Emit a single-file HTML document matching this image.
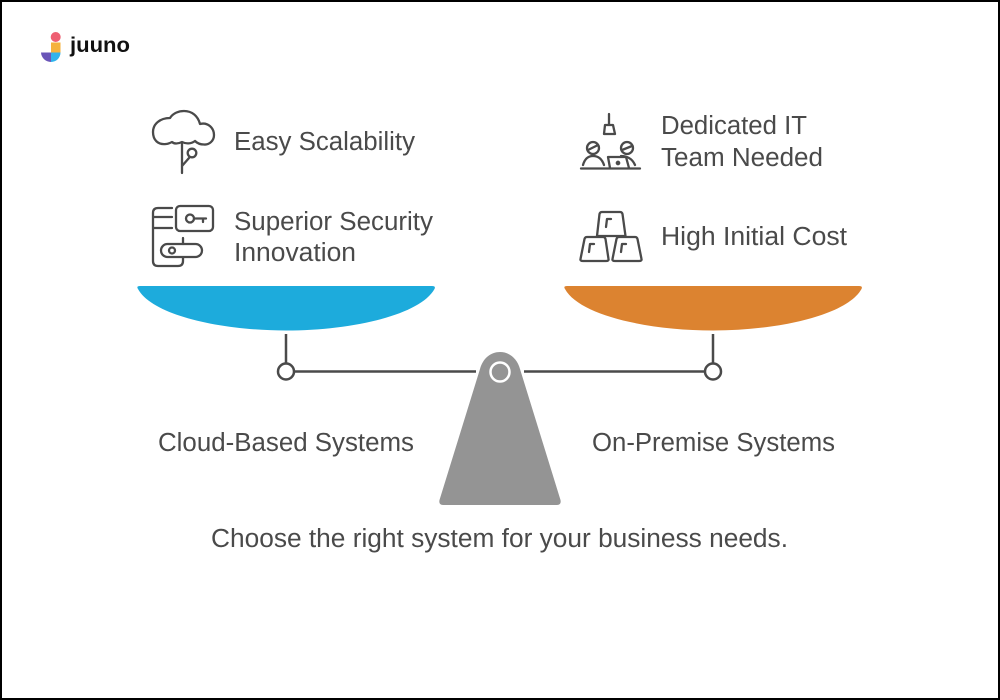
<!DOCTYPE html>
<html><head><meta charset="utf-8">
<style>html,body{margin:0;padding:0;background:#fff}svg{display:block}text{font-family:"Liberation Sans",sans-serif;font-size:25.5px;fill:#4a4a4a}</style>
</head><body>
<svg width="1000" height="700" viewBox="0 0 1000 700" xmlns="http://www.w3.org/2000/svg">
<rect x="1" y="1" width="998" height="698" fill="#fff" stroke="#000" stroke-width="2"/>
<!-- logo -->
<circle cx="55.700" cy="37" r="5" fill="#ee5f72"/>
<rect x="51" y="42.500" width="9.500" height="10" fill="#f5b23d"/>
<path d="M41 52.500H51V62A10 10 0 0 1 41 52.500Z" fill="#6a55b8"/>
<path d="M51 52.500H60.500A9.500 9.500 0 0 1 51 62Z" fill="#2fb3ec"/>
<text x="70" y="52" textLength="60" lengthAdjust="spacingAndGlyphs" style="font-size:21px;font-weight:700;fill:#111">juuno</text>
<!-- pans -->
<path d="M140 286H432Q436 286 434.500 289C420 315 352 330.500 286 330.500C220 330.500 152 315 138 289Q136 286 140 286Z" fill="#1dabdc"/>
<path d="M567 286H859Q863 286 861.500 289C847 315 779 330.500 713 330.500C647 330.500 579 315 565 289Q563 286 567 286Z" fill="#dc8330"/>
<!-- beam -->
<g stroke="#4a4a4a" stroke-width="2.500" fill="none">
<path d="M286 334V363M294 371.500H476M524 371.500H705M713 334V363"/>
<circle cx="286" cy="371.500" r="8" fill="#fff"/>
<circle cx="713" cy="371.500" r="8" fill="#fff"/>
</g>
<!-- fulcrum -->
<path d="M480 369C483 358 491 352 500 352C509 352 517 358 520 369L560.500 500Q561.500 505 557 505H443Q438.500 505 439.500 500Z" fill="#949494"/>
<circle cx="500" cy="372" r="9.500" fill="none" stroke="#fff" stroke-width="2.500"/>
<!-- icons -->
<g stroke="#4a4a4a" stroke-width="2.300" fill="none" stroke-linecap="round" stroke-linejoin="round">
<!-- cloud -->
<path d="M166 144C158 145 153 140 153 132C153 124 160 118 170 118C173 113 179 111 184 111C192 111 198 116 200 124C208 122 214 128 214 135C214 141 209 145 204 144.500C200 144.500 197 143 195 141C191 144 186 144 182 142C178 144 174 144 172 142C170 143 168 144 166 144Z"/>
<path d="M182 144V173M182 166L189 158"/>
<circle cx="192" cy="153" r="4.300"/>
<!-- security -->
<path d="M172 208H158Q153 208 153 213V261Q153 266 158 266H178Q183 266 183 261V258M153 217H172M153 228H172M183 244V238"/>
<rect x="176" y="206" width="37" height="25" rx="4"/>
<circle cx="190" cy="218.500" r="4"/>
<path d="M194 218.500H206M203 218.500V222"/>
<rect x="161" y="244" width="41" height="13" rx="6.500"/>
<circle cx="172" cy="250.500" r="3"/>
<!-- team -->
<path d="M609 114V125M605 125H613L615 134H604Z"/>
<circle cx="593" cy="148" r="6"/>
<circle cx="627" cy="148" r="6"/>
<path d="M588 150L598 145M622 150L632 146"/>
<path d="M583 165C585 158 589 156 593 156C598 156 602 159 604 165M621 156C626 156 632 158 635 165"/>
<path d="M581 168.500H640M610 168L608 157H626L629 168"/>
<circle cx="618" cy="163" r="1.200"/>
<!-- gold -->
<path d="M602 212H620Q622 212 622.500 214L625.500 236H597L599.500 214Q600 212 602 212Z"/>
<path d="M587 237H603Q605 237 605.500 239L608.500 259Q609 261 606 261H583Q580 261 580.500 259L584.500 239Q585 237 587 237Z"/>
<path d="M619 237H635Q637 237 637.500 239L641.500 259Q642 261 639 261H615Q612 261 612.500 259L616.500 239Q617 237 619 237Z"/>
<path d="M606 227L607 219H611M589 252L590 244H594M621 252L622 244H626"/>
</g>
<!-- labels -->
<text x="234" y="150" textLength="181" lengthAdjust="spacingAndGlyphs">Easy Scalability</text>
<text x="234" y="230" textLength="199" lengthAdjust="spacingAndGlyphs">Superior Security</text>
<text x="234" y="261" textLength="122" lengthAdjust="spacingAndGlyphs">Innovation</text>
<text x="661" y="134" textLength="146" lengthAdjust="spacingAndGlyphs">Dedicated IT</text>
<text x="661" y="166" textLength="162" lengthAdjust="spacingAndGlyphs">Team Needed</text>
<text x="661" y="245" textLength="186" lengthAdjust="spacingAndGlyphs">High Initial Cost</text>
<text x="158" y="451" textLength="256" lengthAdjust="spacingAndGlyphs">Cloud-Based Systems</text>
<text x="592" y="451" textLength="243" lengthAdjust="spacingAndGlyphs">On-Premise Systems</text>
<text x="211" y="547" textLength="577" lengthAdjust="spacingAndGlyphs">Choose the right system for your business needs.</text>
</svg>
</body></html>
